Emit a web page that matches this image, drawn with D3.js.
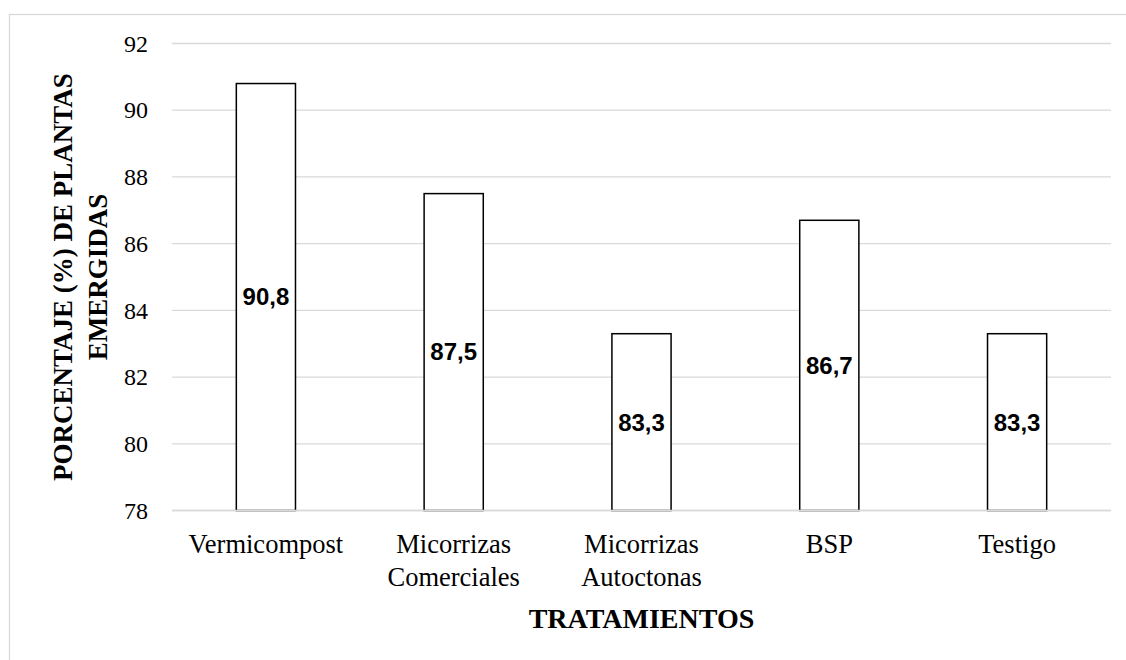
<!DOCTYPE html>
<html>
<head>
<meta charset="utf-8">
<script src="https://cdn.jsdelivr.net/npm/d3@7.9.0/dist/d3.min.js"></script>
<style>
  html, body { margin: 0; padding: 0; background: #fff; }
  svg { display: block; }
</style>
</head>
<body>
<div id="chart"></div>
<script>
const categories = ['Vermicompost', 'Micorrizas Comerciales', 'Micorrizas Autoctonas', 'BSP', 'Testigo'];
const values = [90.8, 87.5, 83.3, 86.7, 83.3];
const yTicks = [78, 80, 82, 84, 86, 88, 90, 92];

const width = 1126;
const height = 660;

const svg = d3.select('#chart')
    .append('svg')
    .attr('width', width)
    .attr('height', height);

// outer chart frame (clipped at right and bottom)
svg.append('rect')
    .attr('x', 9.5)
    .attr('y', 14.5)
    .attr('width', width)
    .attr('height', height)
    .attr('fill', 'none')
    .attr('stroke', '#d9d9d9')
    .attr('stroke-width', 1.3);

const area = { left: 172, right: 1111, top: 43.5, bottom: 510.5 };

const xScale = d3.scaleBand()
    .domain(categories)
    .range([area.left, area.right])
    .paddingInner(0.685)
    .paddingOuter(0.3425);

const yScale = d3.scaleLinear()
    .domain([78, 92])
    .range([area.bottom, area.top]);

// gridlines
svg.append('g')
    .attr('class', 'gridlines')
    .selectAll('line')
    .data(yTicks)
    .join('line')
    .attr('x1', area.left)
    .attr('x2', area.right)
    .attr('y1', d => yScale(d))
    .attr('y2', d => yScale(d))
    .attr('stroke', '#d9d9d9')
    .attr('stroke-width', 1.3);

// y tick labels
const yAxis = d3.axisLeft(yScale).tickValues(yTicks).tickSize(0).tickPadding(0);
const yG = svg.append('g')
    .attr('transform', `translate(148, 0)`)
    .call(yAxis);
yG.select('.domain').remove();
yG.selectAll('text')
    .attr('font-family', '"Liberation Serif", "Times New Roman", serif')
    .attr('font-size', 24)
    .attr('fill', '#000');

// bars
svg.append('g')
    .attr('class', 'bars')
    .selectAll('rect')
    .data(values)
    .join('rect')
    .attr('x', (d, i) => xScale(categories[i]))
    .attr('y', d => yScale(d))
    .attr('width', xScale.bandwidth())
    .attr('height', d => yScale(78) - yScale(d))
    .attr('fill', '#fff')
    .attr('stroke', '#000')
    .attr('stroke-width', 1.5);

// baseline axis
svg.append('line')
    .attr('x1', area.left)
    .attr('x2', area.right)
    .attr('y1', yScale(78))
    .attr('y2', yScale(78))
    .attr('stroke', '#d9d9d9')
    .attr('stroke-width', 1.5);

// value labels in the middle of each bar
svg.append('g')
    .selectAll('text')
    .data(values)
    .join('text')
    .attr('x', (d, i) => xScale(categories[i]) + xScale.bandwidth() / 2)
    .attr('y', d => (yScale(d) + yScale(78)) / 2)
    .attr('dy', '0.35em')
    .attr('text-anchor', 'middle')
    .attr('font-family', '"Liberation Sans", Arial, sans-serif')
    .attr('font-weight', 'bold')
    .attr('font-size', 24)
    .text(d => String(d).replace('.', ','));

// category labels (wrapped on spaces)
const xLabels = svg.append('g')
    .selectAll('text')
    .data(categories)
    .join('text')
    .attr('x', d => xScale(d) + xScale.bandwidth() / 2)
    .attr('y', 553)
    .attr('text-anchor', 'middle')
    .attr('font-family', '"Liberation Serif", "Times New Roman", serif')
    .attr('font-size', 26.5)
    .attr('fill', '#000');
xLabels.each(function (d) {
    const el = d3.select(this);
    const x = el.attr('x');
    d.split(' ').forEach((w, i) => {
        el.append('tspan').attr('x', x).attr('dy', i === 0 ? 0 : 33).text(w);
    });
});

// x axis title
svg.append('text')
    .attr('x', (area.left + area.right) / 2)
    .attr('y', 628)
    .attr('text-anchor', 'middle')
    .attr('font-family', '"Liberation Serif", "Times New Roman", serif')
    .attr('font-weight', 'bold')
    .attr('font-size', 28)
    .text('TRATAMIENTOS');

// y axis title, two lines
const yTitle = svg.append('text')
    .attr('transform', `translate(72, 277) rotate(-90)`)
    .attr('text-anchor', 'middle')
    .attr('font-family', '"Liberation Serif", "Times New Roman", serif')
    .attr('font-weight', 'bold')
    .attr('font-size', 27);
yTitle.append('tspan').attr('x', 0).attr('y', 0).text('PORCENTAJE (%) DE PLANTAS');
yTitle.append('tspan').attr('x', 0).attr('y', 35).text('EMERGIDAS');
</script>
</body>
</html>
